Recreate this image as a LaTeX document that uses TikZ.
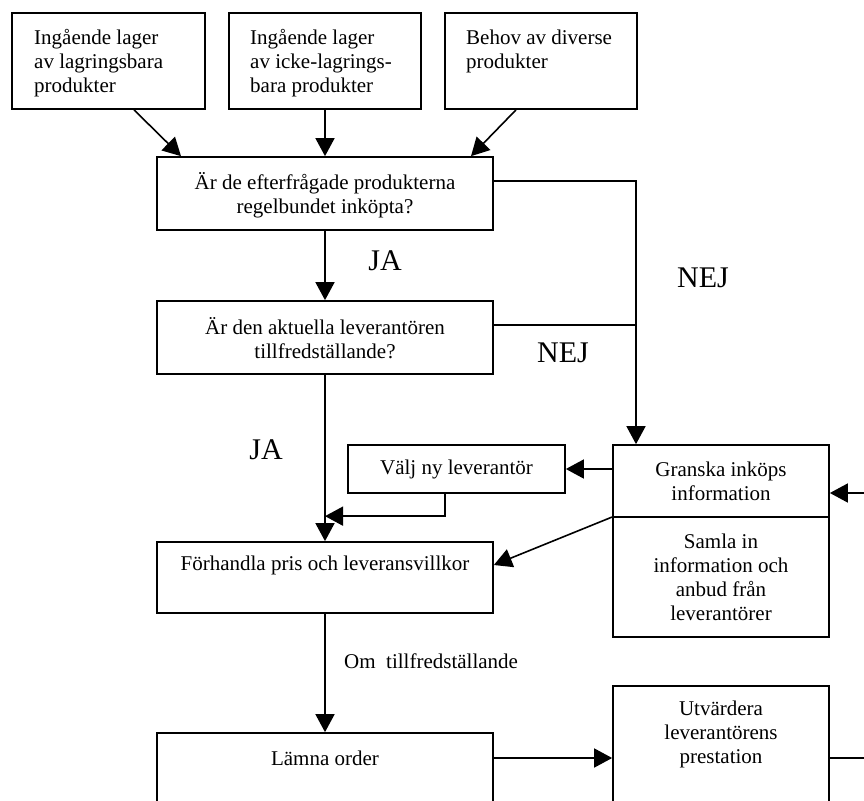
\documentclass[tikz,border=0pt]{standalone}
\usepackage{fontspec}
\setmainfont{Liberation Serif}
\usetikzlibrary{arrows.meta,calc}
\begin{document}
\begin{tikzpicture}[x=1pt,y=-1pt,
  box/.style={draw,line width=1.7pt,inner sep=0pt,rectangle},
  txt/.style={inner sep=0pt,font=\fontsize{21}{24}\selectfont},
  big/.style={inner sep=0pt,font=\fontsize{30}{32}\selectfont},
  con/.style={line width=1.6pt},
  arr/.style={line width=1.6pt,-{Triangle[length=18pt,width=19pt]}}]
\useasboundingbox (0,0) rectangle (864,800);
\clip (0,0) rectangle (864,800);
% boxes
\node[box,minimum width=193pt,minimum height=96pt] (b1) at (108.5,61) {};
\node[box,minimum width=192pt,minimum height=96pt] (b2) at (325,61) {};
\node[box,minimum width=192pt,minimum height=96pt] (b3) at (541,61) {};
\node[box,minimum width=336pt,minimum height=73pt] (q1) at (325,193.5) {};
\node[box,minimum width=336pt,minimum height=73pt] (q2) at (325,337.5) {};
\node[box,minimum width=217pt,minimum height=48pt] (valj) at (456.5,469) {};
\node[box,minimum width=216pt,minimum height=192pt] (gr) at (721,541) {};
\node[box,minimum width=336pt,minimum height=71pt] (for) at (325,577.5) {};
\node[box,minimum width=336pt,minimum height=140pt] (lam) at (325,803) {};
\node[box,minimum width=216pt,minimum height=180pt] (utv) at (721,776) {};
% texts
\node[txt,anchor=west,align=left] (t1) at (34,63) {Ingående lager\\av lagringsbara\\produkter};
\node[txt,anchor=west,align=left] (t2) at (250,63) {Ingående lager\\av icke-lagrings-\\bara produkter};
\node[txt,anchor=west,align=left] (t3) at (466,51) {Behov av diverse\\produkter};
\node[txt,align=center] (tq1) at (325,195) {Är de efterfrågade produkterna\\regelbundet inköpta?};
\node[txt,align=center] (tq2) at (325,338.5) {Är den aktuella leverantören\\tillfredställande?};
\node[txt] (tvalj) at (456.5,469) {Välj ny leverantör};
\node[txt,align=center] (tgr1) at (721,481.5) {Granska inköps\\information};
\node[txt,align=center] (tgr2) at (721,577.5) {Samla in\\information och\\anbud från\\leverantörer};
\node[txt] (tfor) at (325,565) {Förhandla pris och leveransvillkor};
\node[txt] (tlam) at (325,758) {Lämna order};
\node[txt,align=center] (tutv) at (721,734) {Utvärdera\\leverantörens\\prestation};
\node[txt,anchor=west] (tom) at (344,661) {Om\ \ tillfredställande};
\node[big] (ja1) at (385,261) {JA};
\node[big] (nej1) at (703,278) {NEJ};
\node[big] (nej2) at (563,353) {NEJ};
\node[big] (ja2) at (266,450) {JA};
% coordinates
\coordinate (rin) at (870,493);
\coordinate (rout) at (870,758);
% connectors
\draw[arr] ([xshift=25.5pt]b1.south) -- ([xshift=-144pt]q1.north);
\draw[arr] (b2.south) -- (q1.north);
\draw[arr] ([xshift=-25pt]b3.south) -- ([xshift=146pt]q1.north);
\draw[arr] ([yshift=12.5pt]q1.east) -| ([xshift=-85pt]gr.north);
\draw[arr] (q1.south) -- (q2.north);
\draw[con] ([yshift=12.5pt]q2.east) -- ++(143,0);
\draw[arr] (q2.south) -- (for.north);
\draw[arr] (gr.west |- valj) -- (valj.east);
\draw[arr] ([xshift=-11.5pt]valj.south) |- ([yshift=25pt]for.north);
\draw[con] ([yshift=24pt]gr.west) -- ([yshift=24pt]gr.east);
\draw[arr] ([yshift=24pt]gr.west) -- ([yshift=12.5pt]for.east);
\draw[arr] (rin) -- ([yshift=48pt]gr.east);
\draw[arr] (for.south) -- (lam.north);
\draw[arr] (lam.east |- tlam) -- (utv.west |- tlam);
\draw[con] (utv.east |- tlam) -- (rout |- tlam);
\end{tikzpicture}
\end{document}
